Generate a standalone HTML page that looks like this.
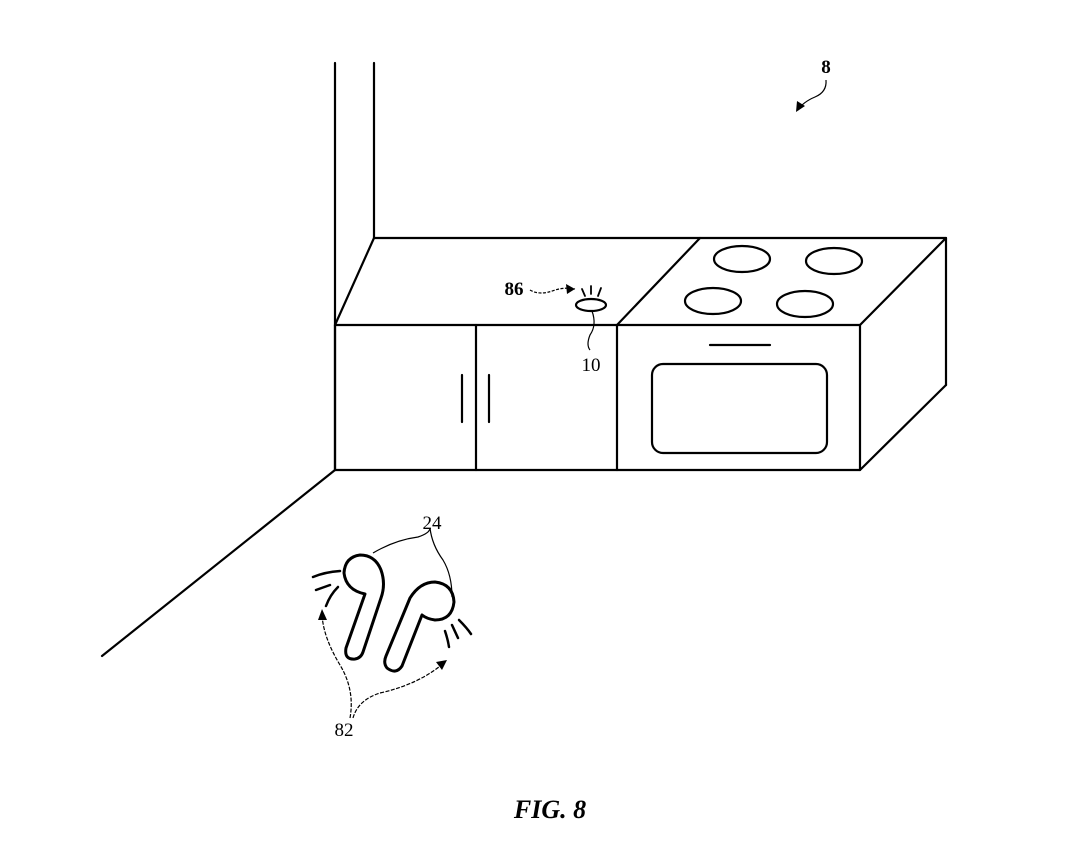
<!DOCTYPE html>
<html><head><style>
html,body{margin:0;padding:0;background:#fff}
svg{display:block}
text{font-family:"Liberation Serif",serif;fill:#000}
</style></head><body>
<svg width="1083" height="849" viewBox="0 0 1083 849" xmlns="http://www.w3.org/2000/svg">
<g fill="none" stroke="#000" stroke-width="2.2" stroke-linejoin="round" stroke-linecap="round">
<!-- walls -->
<line x1="335" y1="63" x2="335" y2="470"/>
<line x1="374" y1="63" x2="374" y2="238"/>
<line x1="335" y1="470" x2="102" y2="656"/>
<!-- counter top -->
<polyline points="335,325 374,238 946,238 860,325"/>
<line x1="700" y1="238" x2="617" y2="325"/>
<line x1="946" y1="238" x2="946" y2="385"/>
<line x1="946" y1="385" x2="860" y2="470"/>
<rect x="335" y="325" width="525" height="145"/>
<line x1="476" y1="325" x2="476" y2="470"/>
<line x1="617" y1="325" x2="617" y2="470"/>
<line x1="462" y1="375" x2="462" y2="422"/>
<line x1="489" y1="375" x2="489" y2="422"/>
<line x1="710" y1="345" x2="770" y2="345"/>
<rect x="652" y="364" width="175" height="89" rx="11"/>
<ellipse cx="742" cy="259" rx="28" ry="13"/>
<ellipse cx="834" cy="261" rx="28" ry="13"/>
<ellipse cx="713" cy="301" rx="28" ry="13"/>
<ellipse cx="805" cy="304" rx="28" ry="13"/>
<!-- device 10 -->
<ellipse cx="591" cy="305" rx="15" ry="6"/>
<line x1="582" y1="289" x2="585" y2="296" stroke-width="1.8"/>
<line x1="591" y1="286" x2="591" y2="294" stroke-width="1.8"/>
<line x1="601" y1="288" x2="598" y2="296" stroke-width="1.8"/>
<!-- earbuds -->
<path d="M365,594 L346,648 Q344,660 355,659 Q361,658 363,652 L381,598 Q386,584 381,570 Q375,555 360,555 Q345,557 344,573 Q346,590 365,594 Z" stroke-width="3"/>
<path d="M422,615 L402,666 Q396,675 387,668 Q383,663 386,656 L410,598 Q420,582 435,582 Q453,584 454,602 Q452,620 435,620 Q427,619 422,615 Z" stroke-width="3"/>
<!-- sound marks -->
<path d="M313,577 Q325,572 340,571" stroke-width="2.5"/>
<path d="M316,590 L330,585" stroke-width="2.5"/>
<path d="M326,606 Q330,595 338,587" stroke-width="2.5"/>
<path d="M445,631 Q448,640 449,647" stroke-width="2.5"/>
<path d="M452,625 L458,638" stroke-width="2.5"/>
<path d="M459,620 Q467,628 471,634" stroke-width="2.5"/>
</g>
<g fill="none" stroke="#000" stroke-width="1.2">
<!-- leaders -->
<path d="M373,553 Q395,540 418,537 Q430,533 430,528"/>
<path d="M430,528 Q432,545 443,560 Q452,575 452,597"/>
<path d="M530,290 Q540,296 555,290 Q565,287 575,289" stroke-dasharray="3,1.5"/>
<path d="M592,311 Q597,325 590,335 Q586,345 590,350"/>
<path d="M826,80 Q827,92 815,97 Q803,102 798,110"/>
<path d="M350,718 Q355,690 340,665 Q322,635 322,612" stroke-dasharray="4,1.5"/>
<path d="M353,718 Q358,700 380,693 Q420,684 445,662" stroke-dasharray="4,1.5"/>
</g>
<g fill="#000">
<polygon points="575,289 566,284 567,294"/>
<polygon points="796,112 797,101 805,106"/>
<polygon points="322,609 318,620 327,620"/>
<polygon points="447,660 436,662 442,670"/>
</g>
<text x="826" y="73" font-size="19" font-weight="bold" text-anchor="middle">8</text>
<text x="514" y="295" font-size="19" font-weight="bold" text-anchor="middle">86</text>
<text x="591" y="371" font-size="19" text-anchor="middle">10</text>
<text x="432" y="529" font-size="19" text-anchor="middle">24</text>
<text x="344" y="736" font-size="19" text-anchor="middle">82</text>
<text x="550" y="818" font-size="26" font-weight="bold" font-style="italic" text-anchor="middle">FIG. 8</text>
</svg>
</body></html>
